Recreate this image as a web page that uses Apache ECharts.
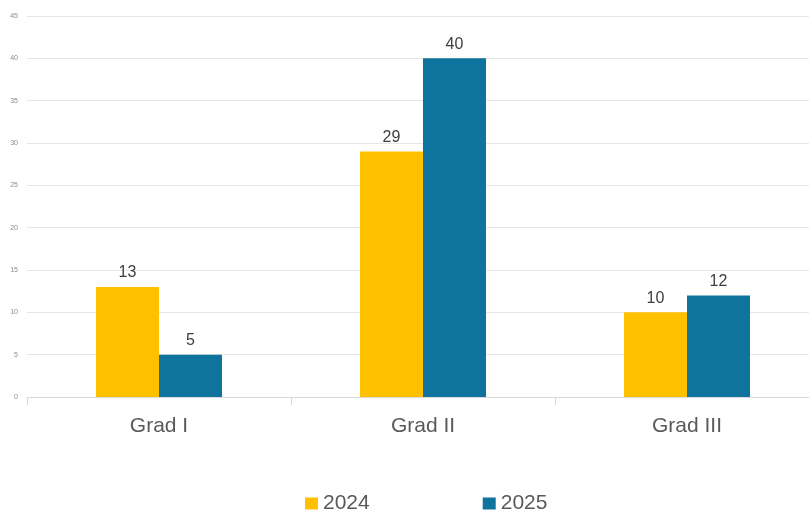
<!DOCTYPE html>
<html>
<head>
<meta charset="utf-8">
<script src="https://cdn.jsdelivr.net/npm/echarts@6/dist/echarts.min.js"></script>
<style>
  html, body { margin: 0; padding: 0; background: #fff; overflow: hidden; }
  #chart { width: 820px; height: 512px; }
</style>
</head>
<body>
<div id="chart"></div>
<script>
// Grades and yearly counts
const categories = ['Grad I', 'Grad II', 'Grad III'];
const seriesNames = ['2024', '2025'];
const values2024 = [13, 29, 10];
const values2025 = [5, 40, 12];
const yTicks = { min: 0, max: 45, interval: 5 };

const chart = echarts.init(document.getElementById('chart'), null, { renderer: 'canvas' });

const labelStyle = {
  show: true,
  position: 'top',
  distance: 6,
  color: '#404040',
  fontSize: 16,
  fontFamily: 'Liberation Sans, Arial, sans-serif'
};

chart.setOption({
  animation: false,
  grid: { left: 27, right: 1, top: 16, bottom: 115, containLabel: false },
  legend: {
    top: 488,
    left: 300,
    itemWidth: 13,
    itemHeight: 12,
    itemGap: 113,
    icon: 'rect',
    textStyle: { color: '#595959', fontSize: 21, fontFamily: 'Liberation Sans, Arial, sans-serif' },
    data: seriesNames
  },
  xAxis: {
    type: 'category',
    data: categories,
    axisLine: { lineStyle: { color: '#d9d9d9' } },
    axisTick: { show: true, length: 8, lineStyle: { color: '#d9d9d9' } },
    axisLabel: { color: '#595959', fontSize: 21, margin: 19, fontFamily: 'Liberation Sans, Arial, sans-serif' }
  },
  yAxis: {
    type: 'value',
    min: yTicks.min,
    max: yTicks.max,
    interval: yTicks.interval,
    axisLine: { show: false },
    axisTick: { show: false },
    axisLabel: { color: '#8c8c8c', fontSize: 7, margin: 9, fontFamily: 'Liberation Sans, Arial, sans-serif' },
    splitLine: { lineStyle: { color: '#e6e6e6' } }
  },
  series: [
    {
      name: seriesNames[0],
      type: 'bar',
      data: values2024,
      barWidth: 63,
      barGap: '0%',
      itemStyle: { color: '#FFC000' },
      label: labelStyle
    },
    {
      name: seriesNames[1],
      type: 'bar',
      data: values2025,
      barWidth: 63,
      barGap: '0%',
      itemStyle: { color: '#0E739D' },
      label: labelStyle
    }
  ]
});
</script>
</body>
</html>
